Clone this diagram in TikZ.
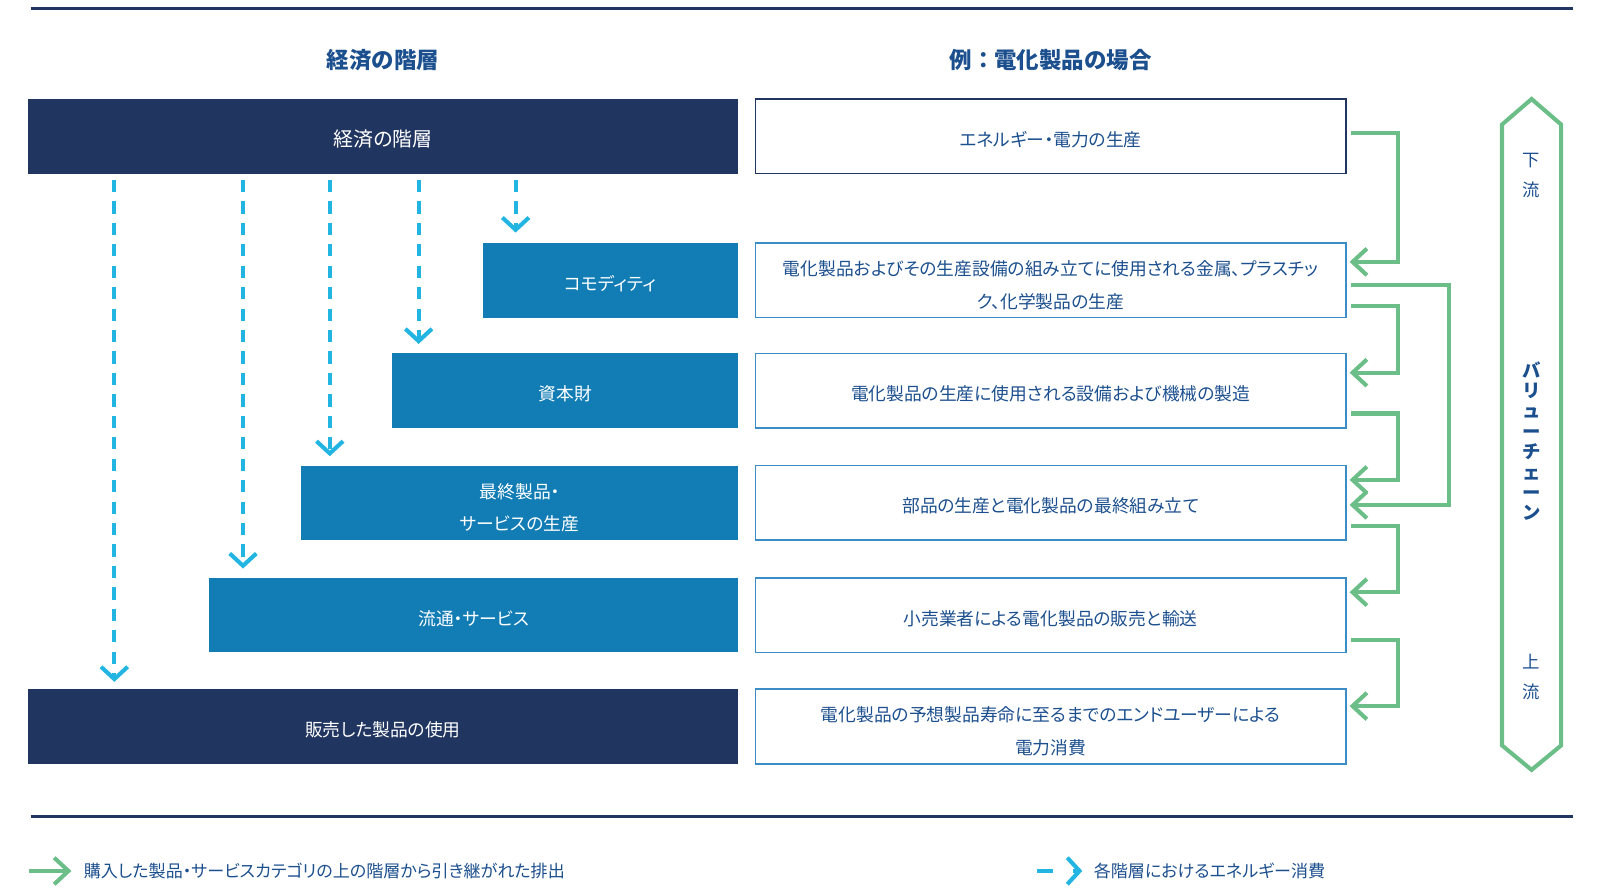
\documentclass[tikz,border=0pt]{standalone}
\usepackage{fontspec}
\setmainfont[RawFeature=+palt]{Noto Sans CJK JP}
\newfontfamily\plainjp{Noto Sans CJK JP}
\usetikzlibrary{arrows.meta}

\definecolor{navy}{HTML}{203560}
\definecolor{midblue}{HTML}{127DB5}
\definecolor{cyanline}{HTML}{22B5E2}
\definecolor{greenline}{HTML}{6CBE88}
\definecolor{textblue}{HTML}{1C4F8E}
\definecolor{boxline}{HTML}{3C8DC6}

\newcommand{\boxfont}{\fontsize{17.4}{32}\selectfont}
\newcommand{\lowstrut}{\rule{0pt}{21pt}}
\newcommand{\topstrut}{\rule{0pt}{24pt}}

\begin{document}
\begin{tikzpicture}[x=1pt, y=-1pt,
    tier/.style={minimum height=73pt, inner sep=0pt, text=white, font=\boxfont, align=center,
        execute at begin node=\lowstrut},
    darktier/.style={tier, fill=navy},
    bluetier/.style={tier, fill=midblue},
    example/.style={draw=boxline, line width=1.5pt, minimum width=578pt, minimum height=73pt,
        inner sep=0pt, text=textblue, font=\boxfont, align=center, execute at begin node=\lowstrut},
    heading/.style={text=textblue, font=\plainjp\fontsize{22}{26}\selectfont\bfseries},
    legend/.style={text=textblue, font=\fontsize{16.7}{20}\selectfont, inner sep=0pt, anchor=west},
    vtext/.style={text=textblue, font=\fontsize{17}{29}\selectfont, align=center, inner sep=0pt},
    flow/.style={draw=greenline, line width=4pt, -{Straight Barb[length=14pt,width=26pt]}},
    energy/.style={draw=cyanline, line width=4pt, dash pattern=on 12pt off 9pt,
        -{Straight Barb[length=12pt,width=26pt]}},
    rule/.style={draw=navy, line width=3pt}]
  \useasboundingbox (0,0) rectangle (1568,877);

  % rules
  \draw[rule] (30,8) -- (1541,8);
  \draw[rule] (30,800) -- (1541,800);

  % headings
  \node[heading] (h1) at (375,59) {経済の階層};
  \node[heading] (h2) at (1029,59) {例：電化製品の場合};

  % tiers of the economy
  \node[darktier, minimum width=696pt, font=\fontsize{19.5}{24}\selectfont] (eco) at (375,133.5) {経済の階層};
  \node[bluetier, minimum width=250pt] (comm) at (598,274.5) {コモディティ};
  \node[bluetier, minimum width=339pt] (cap) at (553.5,382.5) {資本財};
  \node[bluetier, minimum width=428pt] (fin) at (509,492.5) {\topstrut 最終製品・\\サービスの生産};
  \node[bluetier, minimum width=518pt] (dist) at (464,602.5) {流通・サービス};
  \node[darktier, minimum width=696pt] (use) at (375,711.5) {販売した製品の使用};

  % example column
  \node[example, draw=navy] (r1) at (1029,133.5) {エネルギー・電力の生産};
  \node[example] (r2) at (1029,274.5) {\topstrut 電化製品およびその生産設備の組み立てに使用される金属、プラスチッ\\ク、化学製品の生産};
  \node[example] (r3) at (1029,382.5) {電化製品の生産に使用される設備および機械の製造};
  \node[example] (r4) at (1029,492.5) {部品の生産と電化製品の最終組み立て};
  \node[example] (r5) at (1029,602.5) {小売業者による電化製品の販売と輸送};
  \node[example] (r6) at (1029,711.5) {\topstrut 電化製品の予想製品寿命に至るまでのエンドユーザーによる\\電力消費};

  % energy use at each tier
  \coordinate (e1) at (505,0);
  \coordinate (e2) at (410,0);
  \coordinate (e3) at (323,0);
  \coordinate (e4) at (238,0);
  \coordinate (e5) at (112,0);
  \draw[energy] ([yshift=-6pt]eco.south -| e1) -- ([yshift=10pt]comm.north -| e1);
  \draw[energy] ([yshift=-6pt]eco.south -| e2) -- ([yshift=9pt]cap.north -| e2);
  \draw[energy] ([yshift=-6pt]eco.south -| e3) -- ([yshift=9pt]fin.north -| e3);
  \draw[energy] ([yshift=-6pt]eco.south -| e4) -- ([yshift=9pt]dist.north -| e4);
  \draw[energy] ([yshift=-6pt]eco.south -| e5) -- ([yshift=7pt]use.north -| e5);

  % inherited emissions
  \draw[flow] ([xshift=4pt,yshift=3.5pt]r1.east) -- ++(46,0) |- ([xshift=3pt,yshift=18pt]r2.east);
  \draw[flow] ([xshift=4pt,yshift=-25.5pt]r2.east) -- ++(46,0) |- ([xshift=3pt,yshift=17.5pt]r3.east);
  \draw[flow] ([xshift=4pt,yshift=-22.5pt]r3.east) -- ++(46,0) |- ([xshift=3pt,yshift=22.5pt]r4.east);
  \draw[flow] ([xshift=4pt,yshift=-22.5pt]r4.east) -- ++(46,0) |- ([xshift=3pt,yshift=22.5pt]r5.east);
  \draw[flow] ([xshift=4pt,yshift=-24.5pt]r5.east) -- ++(46,0) |- ([xshift=3pt,yshift=20pt]r6.east);
  \draw[flow] ([xshift=4pt,yshift=-4.5pt]r2.east) -- ++(96,0) |- ([xshift=3pt,yshift=-2pt]r4.east);

  % value chain
  \draw[greenline, line width=4pt] (1500,97) -- (1529,122) -- (1529,730) -- (1500,754)
    -- (1471,730) -- (1471,122) -- cycle;
  \node[vtext] (down) at (1500,172) {下\\流};
  \node[vtext, font=\fontsize{18}{20}\selectfont\bfseries] (chain) at (1500,432) {バ\\リ\\ュ\\ー\\チ\\ェ\\ー\\ン};
  \node[vtext] (up) at (1500,663) {上\\流};

  % legend
  \node[legend] (leg1) at (82,853) {購入した製品・サービスカテゴリの上の階層から引き継がれた排出};
  \coordinate (lg1) at (28,853);
  \draw[flow] (lg1) -- ([xshift=-12pt]leg1.west);
  \node[legend] (leg2) at (1071,853) {各階層におけるエネルギー消費};
  \coordinate (lg2) at (1016,853);
  \draw[energy, dash pattern=on 15pt off 20pt] (lg2) -- ([xshift=-11pt]leg2.west);
\end{tikzpicture}
\end{document}
